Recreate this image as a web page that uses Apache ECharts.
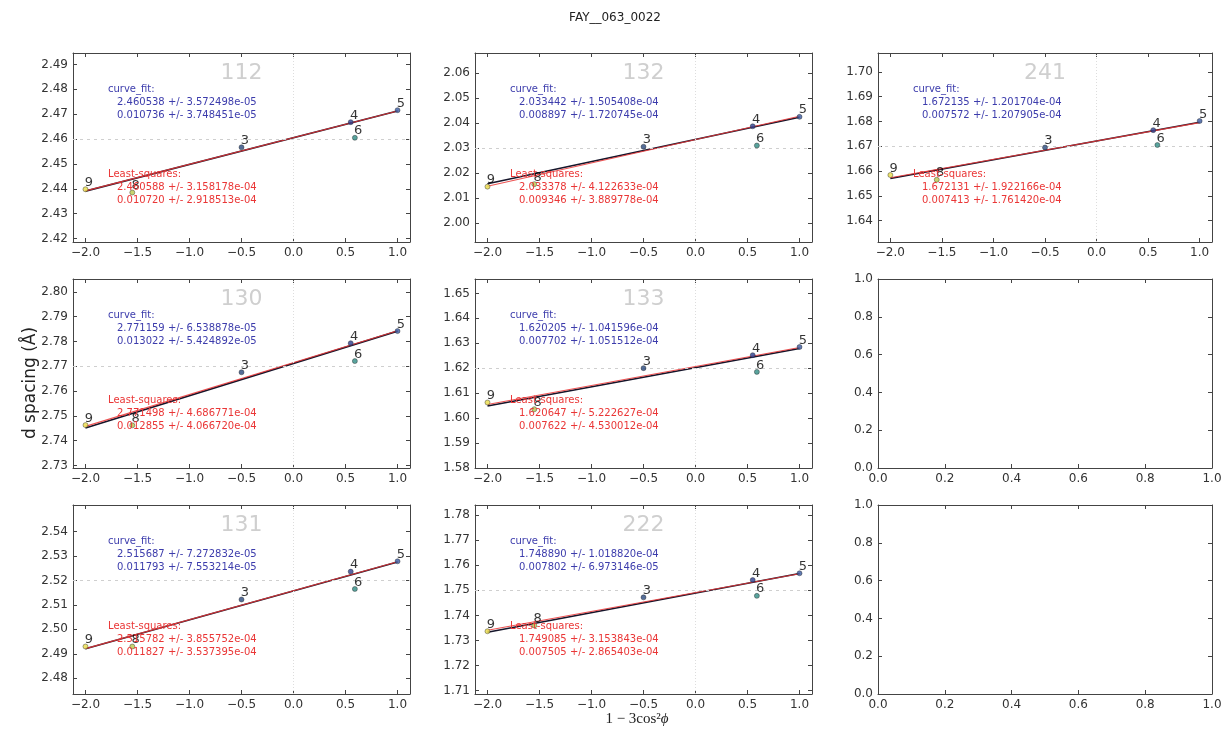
<!DOCTYPE html>
<html>
<head>
<meta charset="utf-8">
<script src="https://cdn.jsdelivr.net/npm/echarts@6/dist/echarts.min.js"></script>
<style>
html,body{margin:0;padding:0;background:#fff;}
#chart{width:1230px;height:735px;}
</style>
</head>
<body>
<div id="chart"></div>
<script>
// ---------- DATA ----------
const figTitle = 'FAY__063_0022';
const yName = 'd spacing (Å)';
const xNameMain = '1 − 3cos²';
const xNameSym = 'ϕ';
const pointLabels = ['9', '8', '3', '4', '6', '5'];
const pointX = [-2.0, -1.55, -0.5, 0.55, 0.59, 1.0];
const fitX = [-2.0, 1.0];
const xTicks = [-2.0, -1.5, -1.0, -0.5, 0.0, 0.5, 1.0];
const emptyTicks = [0.0, 0.2, 0.4, 0.6, 0.8, 1.0];

const y112 = [2.4398, 2.4385, 2.4567, 2.4668, 2.4605, 2.4716];
const cfLine112 = [2.439066, 2.471274];
const lsLine112 = [2.439148, 2.471308];
const ticks112 = [2.42, 2.43, 2.44, 2.45, 2.46, 2.47, 2.48, 2.49];
const cfText112 = ['2.460538 +/- 3.572498e-05', '0.010736 +/- 3.748451e-05'];
const lsText112 = ['2.460588 +/- 3.158178e-04', '0.010720 +/- 2.918513e-04'];
const cfA112 = 2.460538;

const y132 = [2.0145, 2.0155, 2.0305, 2.0387, 2.0310, 2.0425];
const cfLine132 = [2.015648, 2.042339];
const lsLine132 = [2.014686, 2.042724];
const ticks132 = [2.00, 2.01, 2.02, 2.03, 2.04, 2.05, 2.06];
const cfText132 = ['2.033442 +/- 1.505408e-04', '0.008897 +/- 1.720745e-04'];
const lsText132 = ['2.033378 +/- 4.122633e-04', '0.009346 +/- 3.889778e-04'];
const cfA132 = 2.033442;

const y241 = [1.6584, 1.6565, 1.6695, 1.6765, 1.6705, 1.6802];
const cfLine241 = [1.656991, 1.679707];
const lsLine241 = [1.657305, 1.679544];
const ticks241 = [1.64, 1.65, 1.66, 1.67, 1.68, 1.69, 1.70];
const cfText241 = ['1.672135 +/- 1.201704e-04', '0.007572 +/- 1.207905e-04'];
const lsText241 = ['1.672131 +/- 1.922166e-04', '0.007413 +/- 1.761420e-04'];
const cfA241 = 1.672135;

const y130 = [2.7463, 2.7462, 2.7676, 2.7793, 2.7721, 2.7842];
const cfLine130 = [2.745115, 2.784181];
const lsLine130 = [2.745788, 2.784353];
const ticks130 = [2.73, 2.74, 2.75, 2.76, 2.77, 2.78, 2.79, 2.80];
const cfText130 = ['2.771159 +/- 6.538878e-05', '0.013022 +/- 5.424892e-05'];
const lsText130 = ['2.771498 +/- 4.686771e-04', '0.012855 +/- 4.066720e-04'];
const cfA130 = 2.771159;

const y133 = [1.6062, 1.6035, 1.6200, 1.6252, 1.6185, 1.6285];
const cfLine133 = [1.604801, 1.627907];
const lsLine133 = [1.605403, 1.628269];
const ticks133 = [1.58, 1.59, 1.60, 1.61, 1.62, 1.63, 1.64, 1.65];
const cfText133 = ['1.620205 +/- 1.041596e-04', '0.007702 +/- 1.051512e-04'];
const lsText133 = ['1.620647 +/- 5.222627e-04', '0.007622 +/- 4.530012e-04'];
const cfA133 = 1.620205;

const y131 = [2.4930, 2.4930, 2.5122, 2.5236, 2.5165, 2.5278];
const cfLine131 = [2.492101, 2.527480];
const lsLine131 = [2.492128, 2.527609];
const ticks131 = [2.48, 2.49, 2.50, 2.51, 2.52, 2.53, 2.54];
const cfText131 = ['2.515687 +/- 7.272832e-05', '0.011793 +/- 7.553214e-05'];
const lsText131 = ['2.515782 +/- 3.855752e-04', '0.011827 +/- 3.537395e-04'];
const cfA131 = 2.515687;

const y222 = [1.7337, 1.7360, 1.7472, 1.7541, 1.7478, 1.7568];
const cfLine222 = [1.733286, 1.756692];
const lsLine222 = [1.734075, 1.756590];
const ticks222 = [1.71, 1.72, 1.73, 1.74, 1.75, 1.76, 1.77, 1.78];
const cfText222 = ['1.748890 +/- 1.018820e-04', '0.007802 +/- 6.973146e-05'];
const lsText222 = ['1.749085 +/- 3.153843e-04', '0.007505 +/- 2.865403e-04'];
const cfA222 = 1.748890;

// ---------- LAYOUT / STYLE ----------
const colLeft = [73, 475, 878];
const colWidth = [337, 337, 334];
const rowTop = [53, 279, 505];
const rowHeight = 189;
const xRange = [-2.12, 1.12];
const pointColors = {'9': '#e8dc4a', '8': '#b9c94e', '3': '#2b4a7e', '4': '#2c3f8e', '6': '#2f8c84', '5': '#3a5aa0'};
const FONT = '"DejaVu Sans", sans-serif';
const AX = '#444';
const LBL = '#333';
const BLUE = '#3c3cac';
const RED = '#ea3636';

const panels = [
  {name: '112', y: y112, cf: cfLine112, ls: lsLine112, ticks: ticks112, cfT: cfText112, lsT: lsText112, a: cfA112, lim: [2.4186, 2.4946]},
  {name: '132', y: y132, cf: cfLine132, ls: lsLine132, ticks: ticks132, cfT: cfText132, lsT: lsText132, a: cfA132, lim: [1.9923, 2.0681]},
  {name: '241', y: y241, cf: cfLine241, ls: lsLine241, ticks: ticks241, cfT: cfText241, lsT: lsText241, a: cfA241, lim: [1.6314, 1.7076]},
  {name: '130', y: y130, cf: cfLine130, ls: lsLine130, ticks: ticks130, cfT: cfText130, lsT: lsText130, a: cfA130, lim: [2.7290, 2.8052]},
  {name: '133', y: y133, cf: cfLine133, ls: lsLine133, ticks: ticks133, cfT: cfText133, lsT: lsText133, a: cfA133, lim: [1.5799, 1.6558]},
  null,
  {name: '131', y: y131, cf: cfLine131, ls: lsLine131, ticks: ticks131, cfT: cfText131, lsT: lsText131, a: cfA131, lim: [2.4736, 2.5508]},
  {name: '222', y: y222, cf: cfLine222, ls: lsLine222, ticks: ticks222, cfT: cfText222, lsT: lsText222, a: cfA222, lim: [1.7087, 1.7840]},
  null
];

const fmt = (v, d) => v.toFixed(d).replace('-', '\u2212');

const grids = [], xAxes = [], yAxes = [], series = [], graphics = [];

function axisCommon(show, ticks) {
  const o = {
    axisLine: {show: true, onZero: false, lineStyle: {color: AX, width: 1}},
    axisTick: {show: true, inside: true, length: 4, lineStyle: {color: AX, width: 1}},
    splitLine: {show: false},
    axisLabel: {show: show, color: LBL, fontSize: 12, fontFamily: FONT}
  };
  if (ticks) { o.axisTick.customValues = ticks; o.axisLabel.customValues = ticks; }
  return o;
}

panels.forEach((p, i) => {
  const r = Math.floor(i / 3), c = i % 3;
  const gl = colLeft[c], gt = rowTop[r], gw = colWidth[c];
  grids.push({left: gl, top: gt, width: gw, height: rowHeight, show: false});
  const xi = xAxes.length, yi = yAxes.length;
  if (p) {
    const xb = Object.assign({gridIndex: i, type: 'value', position: 'bottom', min: xRange[0], max: xRange[1]}, axisCommon(true, xTicks));
    xb.axisLabel.formatter = v => fmt(v, 1); xb.axisLabel.margin = 5;
    const xt = Object.assign({gridIndex: i, type: 'value', position: 'top', min: xRange[0], max: xRange[1]}, axisCommon(false, xTicks));
    const yl = Object.assign({gridIndex: i, type: 'value', position: 'left', min: p.lim[0], max: p.lim[1]}, axisCommon(true, p.ticks));
    yl.axisLabel.formatter = v => fmt(v, 2); yl.axisLabel.margin = 5;
    const yr = Object.assign({gridIndex: i, type: 'value', position: 'right', min: p.lim[0], max: p.lim[1]}, axisCommon(false, p.ticks));
    xAxes.push(xb, xt); yAxes.push(yl, yr);

    series.push({
      type: 'line', xAxisIndex: xi, yAxisIndex: yi, z: 3,
      data: fitX.map((x, k) => [x, p.cf[k]]),
      symbol: 'none', silent: true,
      lineStyle: {color: '#15152a', width: 1.6},
      markLine: {
        silent: true, symbol: 'none', label: {show: false},
        data: [
          {yAxis: p.a, lineStyle: {color: '#cfcfcf', type: [3, 4], width: 1}},
          {xAxis: 0, lineStyle: {color: '#dddddd', type: [1, 2], width: 1}}
        ]
      }
    });
    series.push({
      type: 'line', xAxisIndex: xi, yAxisIndex: yi, z: 4,
      data: fitX.map((x, k) => [x, p.ls[k]]),
      symbol: 'none', silent: true,
      lineStyle: {color: RED, width: 1.1, opacity: 0.85}
    });
    series.push({
      type: 'scatter', xAxisIndex: xi, yAxisIndex: yi, z: 5,
      data: pointX.map((x, k) => ({
        value: [x, p.y[k]],
        itemStyle: {color: pointColors[pointLabels[k]]}
      })),
      symbolSize: 5,
      itemStyle: {borderColor: '#222', borderWidth: 0.5},
      label: {
        show: true, position: [2, -4], align: 'left', verticalAlign: 'middle',
        formatter: prm => pointLabels[prm.dataIndex],
        color: '#000', fontSize: 13, fontFamily: FONT
      }
    });

    graphics.push({type: 'text', x: gl + gw / 2, y: gt + 20, z: 1,
      style: {text: p.name, fill: '#cfcfcf', font: '22px ' + FONT, align: 'center', verticalAlign: 'middle', textAlign: 'center', textVerticalAlign: 'middle'}});
    const txt = (t, x, y, col) => graphics.push({type: 'text', x: x, y: y, z: 10,
      style: {text: t, fill: col, font: '10px ' + FONT, align: 'left', verticalAlign: 'middle', textAlign: 'left', textVerticalAlign: 'middle'}});
    txt('curve_fit:', gl + 35, gt + 36, BLUE);
    txt(p.cfT[0], gl + 44, gt + 49, BLUE);
    txt(p.cfT[1], gl + 44, gt + 62, BLUE);
    txt('Least-squares:', gl + 35, gt + 121, RED);
    txt(p.lsT[0], gl + 44, gt + 134, RED);
    txt(p.lsT[1], gl + 44, gt + 147, RED);
  } else {
    const xb = Object.assign({gridIndex: i, type: 'value', position: 'bottom', min: 0, max: 1, interval: 0.2}, axisCommon(true));
    xb.axisLabel.formatter = v => fmt(v, 1); xb.axisLabel.margin = 5;
    const xt = Object.assign({gridIndex: i, type: 'value', position: 'top', min: 0, max: 1, interval: 0.2}, axisCommon(false));
    const yl = Object.assign({gridIndex: i, type: 'value', position: 'left', min: 0, max: 1, interval: 0.2}, axisCommon(true));
    yl.axisLabel.formatter = v => fmt(v, 1); yl.axisLabel.margin = 5;
    const yr = Object.assign({gridIndex: i, type: 'value', position: 'right', min: 0, max: 1, interval: 0.2}, axisCommon(false));
    xAxes.push(xb, xt); yAxes.push(yl, yr);
    series.push({type: 'scatter', xAxisIndex: xi, yAxisIndex: yi, data: []});
  }
});

graphics.push({type: 'text', x: 615, y: 18, style: {text: figTitle, fill: '#222', font: '12px ' + FONT, align: 'center', verticalAlign: 'middle', textAlign: 'center', textVerticalAlign: 'middle'}});
graphics.push({type: 'text', x: 31, y: 383, rotation: Math.PI / 2, style: {text: yName, fill: '#222', font: '17px ' + FONT, align: 'center', verticalAlign: 'middle', textAlign: 'center', textVerticalAlign: 'middle'}});
graphics.push({type: 'text', x: 637, y: 719, style: {
  text: '{m|' + xNameMain + '}{s|' + xNameSym + '}',
  rich: {
    m: {fill: '#222', font: '15px "Liberation Serif", "DejaVu Serif", serif'},
    s: {fill: '#222', font: 'italic 15px "Liberation Serif", "DejaVu Serif", serif'}
  },
  align: 'center', verticalAlign: 'middle', textAlign: 'center', textVerticalAlign: 'middle'}});

const chart = echarts.init(document.getElementById('chart'), null, {renderer: 'canvas'});
chart.setOption({
  animation: false,
  backgroundColor: '#ffffff',
  grid: grids,
  xAxis: xAxes,
  yAxis: yAxes,
  series: series,
  graphic: graphics
});
</script>
</body>
</html>
